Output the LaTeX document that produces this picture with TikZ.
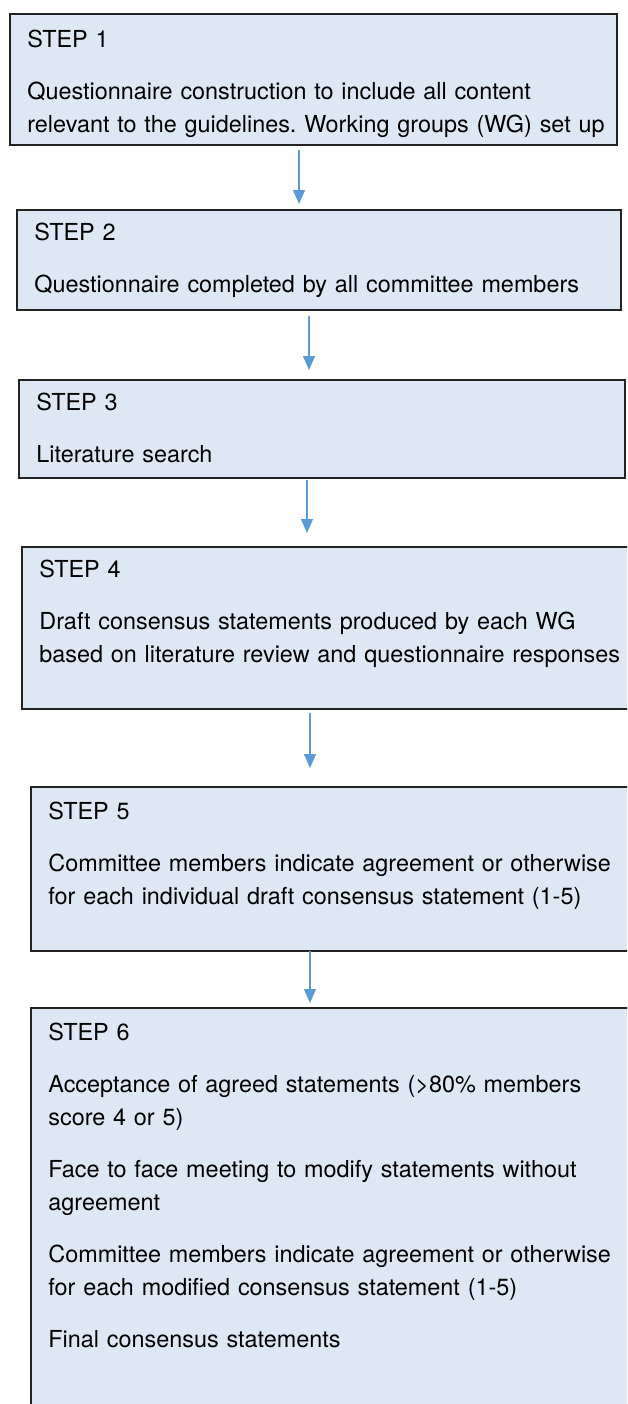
\documentclass[tikz,border=0pt]{standalone}
\usepackage{fontspec}
\setmainfont{TeX Gyre Heros}
\usetikzlibrary{arrows.meta}
\frenchspacing
\definecolor{boxblue}{RGB}{221,232,244}
\definecolor{boxline}{RGB}{35,35,35}
\definecolor{arrowblue}{RGB}{91,155,213}
\tikzset{
  stepbox/.style={draw=boxline, line width=0.8pt, fill=boxblue, rectangle, inner sep=0pt, anchor=north west},
  steptext/.style={anchor=base west, inner sep=0pt, text width=330pt, align=left, font=\fontsize{11.7}{16.5}\selectfont},
  flow/.style={draw=arrowblue, line width=0.6pt, -{Triangle[width=6pt,length=7pt]}}
}
\begin{document}
\begin{tikzpicture}[x=0.5pt,y=-0.5pt]
\useasboundingbox (0,0) rectangle (627,1404);
\clip (0,0) rectangle (627,1404);
% boxes
\node[stepbox, minimum width=303.5pt, minimum height=65.5pt] (b1) at (9,13) {};
\node[stepbox, minimum width=302pt, minimum height=50pt] (b2) at (16,209) {};
\node[stepbox, minimum width=303pt, minimum height=49pt] (b3) at (18,379) {};
\node[stepbox, minimum width=310pt, minimum height=81pt] (b4) at (21,546) {};
\node[stepbox, minimum width=310pt, minimum height=82pt] (b5) at (30,786) {};
\node[stepbox, minimum width=310pt, minimum height=215pt] (b6) at (30,1007) {};
% texts
\node[steptext] (t1) at (27,47.5) {STEP 1\\[9.5pt]
  Questionnaire construction to include all content\\
  relevant to the guidelines. Working groups (WG) set up};
\node[steptext] (t2) at (34,240.5) {STEP 2\\[9.5pt]
  Questionnaire completed by all committee members};
\node[steptext] (t3) at (36,410.5) {STEP 3\\[9.5pt]
  Literature search};
\node[steptext] (t4) at (39,577.5) {STEP 4\\[9.5pt]
  Draft consensus statements produced by each WG\\
  based on literature review and questionnaire responses};
\node[steptext] (t5) at (48,819.5) {STEP 5\\[9.5pt]
  Committee members indicate agreement or otherwise\\
  for each individual draft consensus statement (1-5)};
\node[steptext] (t6) at (48,1040.5) {STEP 6\\[9.5pt]
  Acceptance of agreed statements (>80\% members\\
  score 4 or 5)\\[9.5pt]
  Face to face meeting to modify statements without\\
  agreement\\[9.5pt]
  Committee members indicate agreement or otherwise\\
  for each modified consensus statement (1-5)\\[9.5pt]
  Final consensus statements};
% arrows
\coordinate (a1) at (299,150);
\coordinate (a2) at (309,316);
\coordinate (a3) at (307,480);
\coordinate (a4) at (310,713);
\coordinate (a5) at (310,951);
\draw[flow, shorten >=2.5pt] (a1) -- (a1 |- b2.north);
\draw[flow, shorten >=4.5pt] (a2) -- (a2 |- b3.north);
\draw[flow, shorten >=6.5pt] (a3) -- (a3 |- b4.north);
\draw[flow, shorten >=9pt] (a4) -- (a4 |- b5.north);
\draw[flow, shorten >=2pt] (a5) -- (a5 |- b6.north);
\end{tikzpicture}
\end{document}
